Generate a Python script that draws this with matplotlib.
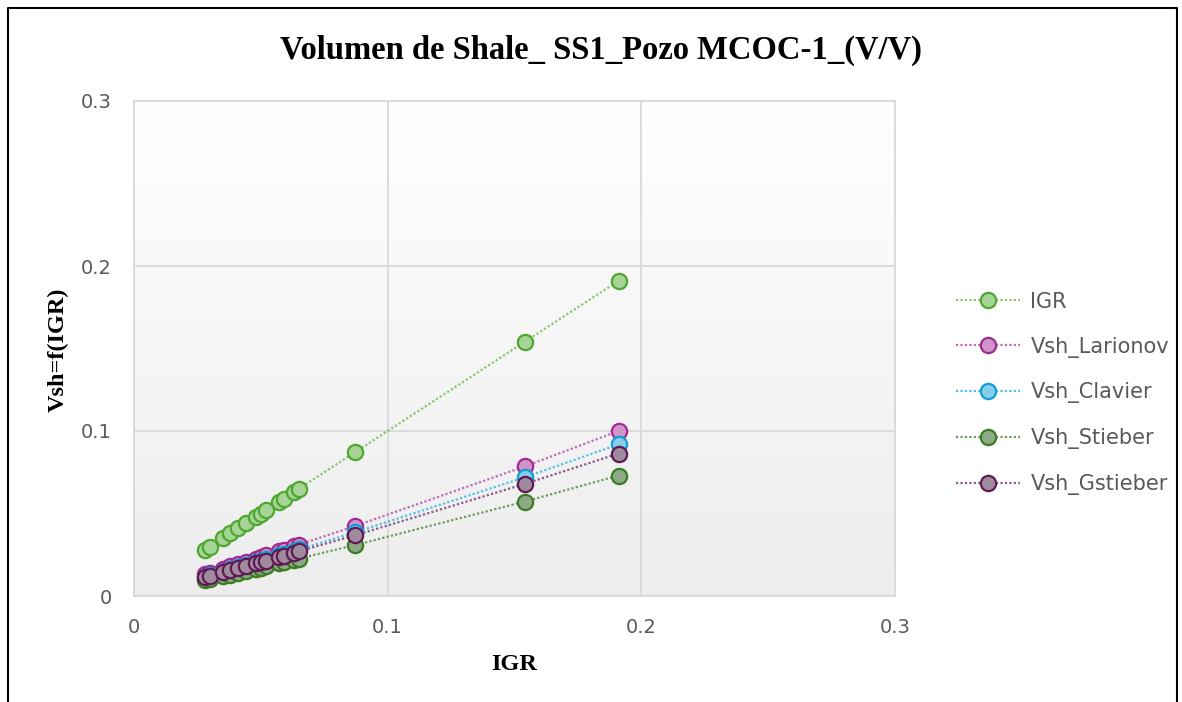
import numpy as np
import matplotlib
matplotlib.use("Agg")
import matplotlib.pyplot as plt
from matplotlib.lines import Line2D
from matplotlib.colors import LinearSegmentedColormap

igr = [0.028, 0.030, 0.035, 0.038, 0.041, 0.044, 0.048, 0.050, 0.052, 0.057,
       0.059, 0.063, 0.065, 0.087, 0.154, 0.191]
vsh_igr = [0.028, 0.030, 0.035, 0.038, 0.041, 0.044, 0.048, 0.050, 0.052, 0.057,
           0.059, 0.063, 0.065, 0.087, 0.154, 0.191]
vsh_larionov = [0.0131, 0.0140, 0.0164, 0.0179, 0.0193, 0.0208, 0.0227, 0.0237, 0.0247, 0.0271,
                0.0281, 0.0301, 0.0311, 0.0423, 0.0785, 0.1000]
vsh_clavier = [0.0118, 0.0127, 0.0148, 0.0162, 0.0175, 0.0188, 0.0206, 0.0215, 0.0224, 0.0246,
               0.0255, 0.0273, 0.0282, 0.0385, 0.0719, 0.0919]
vsh_stieber = [0.0095, 0.0102, 0.0120, 0.0130, 0.0141, 0.0151, 0.0165, 0.0172, 0.0180, 0.0198,
               0.0205, 0.0219, 0.0227, 0.0308, 0.0572, 0.0730]
vsh_gstieber = [0.0114, 0.0122, 0.0143, 0.0156, 0.0168, 0.0181, 0.0198, 0.0206, 0.0215, 0.0236,
                0.0245, 0.0262, 0.0271, 0.0367, 0.0679, 0.0863]

series_names = ["IGR", "Vsh_Larionov", "Vsh_Clavier", "Vsh_Stieber", "Vsh_Gstieber"]
series_vals = [vsh_igr, vsh_larionov, vsh_clavier, vsh_stieber, vsh_gstieber]
edge_colors = ["#4EA72E", "#A02B93", "#0F9ED5", "#3A7D22", "#5F1A55"]
fill_colors = ["#A6D396", "#CF95C9", "#87CEEA", "#8DA986", "#A08A9D"]
line_colors = ["#86C46E", "#BE6BB3", "#57BDE5", "#6E9A5E", "#8F5A86"]

ticks = [0, 0.1, 0.2, 0.3]
tick_labels = ["0", "0.1", "0.2", "0.3"]

W, H = 1182, 702
fig = plt.figure(figsize=(W / 100, H / 100), dpi=100)
ax = fig.add_axes([134 / W, 1 - 596 / H, (895 - 134) / W, (596 - 101) / H])

# gradient background of plot area (white at top, light grey at bottom)
grad = np.linspace(0, 1, 256).reshape(-1, 1)
cmap = LinearSegmentedColormap.from_list("bg", ["#FFFFFF", "#EDEDED"])
ax.imshow(grad, extent=[0, 0.3, 0, 0.3], aspect="auto", cmap=cmap, zorder=0,
          origin="upper")
ax.set_xlim(0, 0.3)
ax.set_ylim(0, 0.3)

ax.set_xticks(ticks)
ax.set_xticklabels(tick_labels)
ax.set_yticks(ticks)
ax.set_yticklabels(tick_labels)
ax.grid(True, color="#D9D9D9", linewidth=1.3, zorder=1)
ax.tick_params(length=0, labelsize=14, labelcolor="#595959")
ax.tick_params(axis="x", pad=16)
ax.tick_params(axis="y", pad=16)
for s in ax.spines.values():
    s.set_color("#D9D9D9")
    s.set_linewidth(1.3)

for name, vals, ec, fc, lc in zip(series_names, series_vals, edge_colors, fill_colors, line_colors):
    ax.plot(igr, vals, linestyle=(0, (1, 1)), color=lc, linewidth=1.6, zorder=3)
    ax.plot(igr, vals, linestyle="none", marker="o", markersize=11,
            markerfacecolor=fc, markeredgecolor=ec, markeredgewidth=1.6,
            zorder=4, label=name)

handles = [Line2D([0], [0], linestyle=(0, (1, 1)), color=lc, linewidth=1.6,
                  marker="o", markersize=11, markerfacecolor=fc,
                  markeredgecolor=ec, markeredgewidth=1.6)
           for ec, fc, lc in zip(edge_colors, fill_colors, line_colors)]
leg = fig.legend(handles, series_names, loc="upper left",
                 bbox_to_anchor=(937 / W, 1 - 273 / H), frameon=False,
                 fontsize=15, labelcolor="#595959", handlelength=3.1,
                 handletextpad=0.48, labelspacing=1.19)

fig.text(601 / W, 1 - 50 / H, "Volumen de Shale_ SS1_Pozo MCOC-1_(V/V)",
         ha="center", va="center", fontsize=23.5, fontweight="bold",
         family="Liberation Serif")
fig.text(514 / W, 1 - 664 / H, "IGR", ha="center", va="center",
         fontsize=17.5, fontweight="bold", family="Liberation Serif")
fig.text(58 / W, 1 - 350 / H, "Vsh=f(IGR)", ha="center", va="center",
         fontsize=17.5, fontweight="bold", family="Liberation Serif", rotation=90)

# outer chart border (left, top, right)
fig.add_artist(Line2D([8 / W, 8 / W, 1177 / W, 1177 / W],
                      [0, 1 - 8 / H, 1 - 8 / H, 0],
                      transform=fig.transFigure, color="black", linewidth=1.5))

fig.savefig("out.png", dpi=100)
